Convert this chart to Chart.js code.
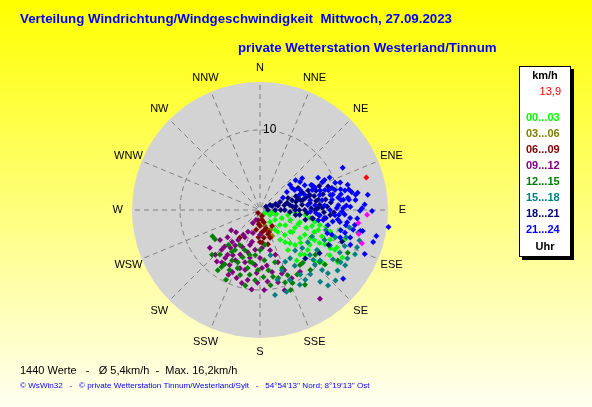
<!DOCTYPE html>
<html lang="de">
<head>
<meta charset="UTF-8">
<title>Windverteilung</title>
<script src="https://cdn.jsdelivr.net/npm/chart.js"></script>
<style>
    html, body { margin: 0; padding: 0; background: #ffff00; }
    #wrap { width: 592px; height: 407px; }
</style>
</head>
<body>
<div id="wrap"><canvas id="windChart" width="592" height="407"></canvas></div>
<script>
// compass directions (16 sectors, clockwise from N)
const directions = ['N', 'NNE', 'NE', 'ENE', 'E', 'ESE', 'SE', 'SSE', 'S', 'SSW', 'SW', 'WSW', 'W', 'WNW', 'NW', 'NNW'];
const ringTicks = [10];
const speedMax = 16;
const hourBands = ['00...03', '03...06', '06...09', '09...12', '12...15', '15...18', '18...21', '21...24'];
const bandColors = ['#00ff00', '#808000', '#800000', '#800080', '#008000', '#008080', '#000080', '#0000ff'];

// [direction in degrees, speed in km/h]
const winds0003 = [[124,0.75],[116,1.4],[104,2.1],[110,2.9],[108,4],[110,5.1],[111,6.2],[112,7.3],[113,8.4],[113,9.5],[116,10.7],
    [121,3.7],[124,4.9],[125,6.1],[125,7.6],[125,8.8],[130,10.3],[144,7.8],[145,6.1],[146,4.5],[143,3.1],[96,5.7],[95,4.4],
    [102,7],[104,10.3],[104,8.5],[130,7.8],[138,7.5],[123,10.4],[120,11.9],[138,5.6],[97,5],[99,6.3],[104,7.7],[107,9.2],
    [117,4.9],[119,6.4],[119,7.8],[118,9.2],[118,10.6],[127,3.1],[140,1.95],[135,4.4],[135,6.2],[135,7.9],[141,3.55],[107,6.8],[109,11.25],
    [99,1.5],[100,3.55],[107,5.2],[109,7.7],[110,10],[126,4.65],[129,6.5],[119,7.2],[119,8.5],[118.5,10],[124,11.7],[142,5.1],
    [123,2.25],[133,9.5]];
const winds0306 = [[165,1.55],[160,2.7],[178,3.1],[153,2.8],[163,2.1],[155,3.6]];
const winds0609 = [[212,0.45],[162,0.8],[191,1.3],[162,1.6],[180,2],[162,2.4],[175,2.8],[162,3.2],[172,3.5],[160,3.7],
    [191,2.5],[143,2.5],[216,4.3],[180,4],[167,4.4],[170,1.2],[185,1.8],[168,2.6],[183,3.4],[158,3],[176,4.1]];
const winds0912 = [[202,1.35],[209,1.85],[230,5.3],[235,4.4],[224,6.4],[216,4.65],[209,3.9],[206,5.1],[194,4.1],[196,5.5],
    [177,4.75],[180,6],[173,7],[169,7.9],[183,7.9],[194,9.4],[174,9],[166,9.3],[206,7],[216,6.9],[220,8.4],[216,8.1],
    [209,3.1],[197,3],[146,13.4],[218,6],[192,6.1],[199,7.7],[158,8.1],[155,9.4],[147,9.2],[161,8.4],[215,5.4],
    [204,6.1],[185,6.9],[221,5.3],[196,6.8],[178,7.25],[216,7.4],[227,4.1],[196,4.55],[161,5.9],[182,9.1],[204,8.5],[233,7.85],
    [225,7.9],[233,6.25],[209,7.85],[199,9],[190,8.9],[186,10],[177,10],[163,10.5],[161,6.9],[166,5.2],[187,5],
    [214,3.75],[224,6.9],[211,6.6],[180,3.1],[194,7.7],[206,9]];
const winds1215 = [[237,6.7],[222,7.5],[214,8.6],[209,7.2],[201,7.8],[192,7.4],[200,6.3],[188,6.7],[177,8.4],[169,8.5],
    [159,7.75],[161,9.6],[156,10],[141,8.5],[123,11.6],[116,12.2],[150,9.3],[213,8.1],[212,5.9],[201,5.35],[186,5.7],
    [175,6.3],[164,6.8],[189,8.2],[207,8.4],[197,8.5],[131,9.9],[222,5.9],[203,7.1],[191,6.6],[182,7.5],[172,7.6],
    [165,8.8],[157,8.85],[140,9.8],[241,6.8],
    [227,8.2],[215,9.2],[206,9.7],[191,9.6],[184,8.8],[172,9.5],[159,10.7],[149,10.9],[144,8.5],[129,8.9],
    [130,10.6],[180,5],[210,5.05],[193,5.75],[214,6.3],[172,4.4]];
const winds1518 = [[101,11.4],[107.5,11.3],[110,10],[111,13],[118,11.3],[124,11],[133,11.6],[138,12.7],[162,10.75],
    [125,8.7],[132,7.1],[132,8.4],[130,9.8],[124,7.2],[103,12.6],[123,12],[166,9],[148,8.2],[148,7.1],[135,9.7],
    [115,8.9],[117,7.3],[113,11.5],[148,9.5],[128,12.3],[160,8],[167,5.8],[119,12.5],[147,10.4],[107,8.6],
    [133,12.9],[140,11.7],[142,10.2],[152,10.6],[117,9.8],[115,13.1],[107,13],[139,6.7],[154,7.2],[133,9.1],
    [134,10.8],[170,10.8],[157,9.5],[123,12.7]];
const winds1821 = [[62,0.85],[72,1.6],[77,2.3],[79,3.1],[81,3.8],[84,4.5],[73,4.2],[76,5.2],[90,5.6],[73,6.5],[90,6.9],
    [80,7.4],[88,7.8],[68,6.5],[68,8],[66,7.3],[71,9],[117,9.6],[126,9.2],[137,8.3],[111,11],[97,5],[99,6.6],[90,3.1],
    [90,1.9],[69,4.8],[94,8.8],[90,4.4],[83,5.3],[82,6.3],[88,7.25],[81,8.3],[75,5.9],[75.5,7],[92,8],[74,4.95],
    [68,2.7],[67,3.8],[90,1],
    [75,3.5],[84,4.1],[90,4.9],[77,5.5],[94,5.9],[88,6.4],[81,7.1],[85,7.5],[76,8.1],[87,8.4],[84,8.9],[92,9.25],
    [99,6.7],[102,5.8],[98,4.5],[94,3.75],[95,7.4],[97,8.3],[67,5.7],[74,6.4],[71,7.4],[77,4.6],[69,2.1],[64,1.4],
    [90,2.6],[60,5.5]];
const winds2124 = [[63,11.6],[64.5,7.2],[73,9.4],[75.5,10.4],[77,11.4],[79,10.3],[83,10.2],[83.5,11.2],[88.5,9.6],
    [88.6,10.4],[90.5,12.5],[90.5,14],[97,9.8],[97.5,16.2],[102.6,14.9],[105.8,14.7],[112.8,14.2],[129.6,13.5],[95,12.2],
    [101.5,13.1],[82,11.1],[101.8,12.8],[63,5.6],[71,5.9],[79,6.4],[68,7.4],[76,7.7],[86,8.1],[78,9],[94,9.4],[95,7.5],
    [92,6.3],[98.5,10.1],[102.6,8.7],[93,10.6],[50,4.9],[60,5],[55,6.1],[66,8.5],[82,9.1],[86.5,9.8],[73,8.5],[88,11.3],
    [85,6.9],[100,10.9],[99,12],[105,11],[50,5.8],[61,6.4],[61,8.3],[65,8.9],[70,10],[78,9.3],[91,10.25],[90,8.75],
    [100,7.4],[95,11.3],[87,10.8],[84,12],[79,11.7],[87,13.1],[80,12.4],[69,5.3],[84,6],[69,7],[81,7.85],[74,8.9],
    [81,9.9],[77,10.9],[53,6.6],[56,4.05],[62,3.25],[93,7],[97,8.1],[99,9.2],[104,10.4],[107,11.8],[109,9.5],
    [65,9.6],[71,10.6],[74,11.4],[81,12.1],[89,12.75],[82,13.6],[93.5,9.9],[98,11],[102,11.9],[109,10.6],[109,8.9],
    [64,7.1],[55.5,4.85],[72,7.9],[75,9.7],[83,10.5],[99,8],[111,12.1]];
const windsRecent = [[92.6,13.4],[97.5,12.4],[103.6,12.7],[108,13.4]];
const windNow = [[73,13.9]];

const totalValues = 1440;
const meanSpeed = '5,4';
const maxSpeed = '16,2';

function toXY(p) {
    const a = p[0] * Math.PI / 180;
    return { x: p[1] * Math.sin(a), y: p[1] * Math.cos(a) };
}

const bandSeries = [winds0003, winds0306, winds0609, winds0912, winds1215, winds1518, winds1821, winds2124];

const datasets = bandSeries.map((s, i) => ({
    label: hourBands[i],
    data: s.map(toXY),
    backgroundColor: bandColors[i],
    borderWidth: 0,
    pointStyle: 'rectRot',
    pointRadius: 3,
    order: 20 - i,
    clip: false
}));
datasets.push({ label: 'recent', data: windsRecent.map(toXY), backgroundColor: '#ff00ff', borderWidth: 0,
    pointStyle: 'rectRot', pointRadius: 3, order: 5, clip: false });
datasets.push({ label: 'now', data: windNow.map(toXY), backgroundColor: '#ff0000', borderWidth: 0,
    pointStyle: 'rectRot', pointRadius: 3, order: 1, clip: false });

const windRose = {
    id: 'windRose',
    beforeDraw(chart) {
        const ctx = chart.ctx;
        const g = ctx.createLinearGradient(0, 0, 0, chart.height);
        g.addColorStop(0, '#ffff00');
        g.addColorStop(1, '#fffff2');
        ctx.save();
        ctx.fillStyle = g;
        ctx.fillRect(0, 0, chart.width, chart.height);
        ctx.restore();
    },
    beforeDatasetsDraw(chart) {
        const ctx = chart.ctx;
        const xs = chart.scales.x, ys = chart.scales.y;
        const cx = xs.getPixelForValue(0), cy = ys.getPixelForValue(0);
        const R = xs.getPixelForValue(speedMax) - cx;
        ctx.save();
        ctx.fillStyle = '#d3d3d3';
        ctx.beginPath();
        ctx.arc(cx, cy, R, 0, Math.PI * 2);
        ctx.fill();
        ctx.strokeStyle = '#7f7f7f';
        ctx.lineWidth = 1;
        ctx.setLineDash([5, 4]);
        directions.forEach((d, i) => {
            const a = i * 22.5 * Math.PI / 180;
            ctx.beginPath();
            ctx.moveTo(cx + 3 * Math.sin(a), cy - 3 * Math.cos(a));
            ctx.lineTo(cx + R * Math.sin(a), cy - R * Math.cos(a));
            ctx.stroke();
        });
        ringTicks.forEach(t => {
            const r = xs.getPixelForValue(t) - cx;
            ctx.beginPath();
            ctx.arc(cx, cy, r, 0, Math.PI * 2);
            ctx.stroke();
            ctx.setLineDash([]);
            ctx.fillStyle = '#000';
            ctx.font = '12px "Liberation Sans", Arial, sans-serif';
            ctx.textBaseline = 'middle';
            ctx.textAlign = 'left';
            ctx.fillText(String(t), cx + 3, cy - r);
        });
        ctx.restore();
    },
    afterDraw(chart) {
        const ctx = chart.ctx;
        const xs = chart.scales.x, ys = chart.scales.y;
        const cx = xs.getPixelForValue(0), cy = ys.getPixelForValue(0);
        const rl = xs.getPixelForValue(17.8) - cx;
        ctx.save();
        ctx.textBaseline = 'middle';

        // compass labels
        ctx.fillStyle = '#000';
        ctx.font = '11px "Liberation Sans", Arial, sans-serif';
        ctx.textAlign = 'center';
        directions.forEach((d, i) => {
            const a = i * 22.5 * Math.PI / 180;
            ctx.fillText(d, cx + rl * Math.sin(a), cy - rl * Math.cos(a));
        });

        // title
        ctx.fillStyle = '#0000ff';
        ctx.font = 'bold 13.3px "Liberation Sans", Arial, sans-serif';
        ctx.textAlign = 'left';
        ctx.fillText('Verteilung Windrichtung/Windgeschwindigkeit  Mittwoch, 27.09.2023', 20, 19);
        ctx.fillText('private Wetterstation Westerland/Tinnum', 238, 48);

        // legend box
        ctx.fillStyle = '#000';
        ctx.fillRect(522, 69, 52, 191);
        ctx.fillStyle = '#fff';
        ctx.fillRect(519, 66, 52, 191);
        ctx.strokeStyle = '#000';
        ctx.lineWidth = 1;
        ctx.strokeRect(519.5, 66.5, 51, 190);
        ctx.font = 'bold 11px "Liberation Sans", Arial, sans-serif';
        ctx.textAlign = 'center';
        ctx.fillStyle = '#000';
        ctx.fillText('km/h', 545, 76);
        ctx.font = '11px "Liberation Sans", Arial, sans-serif';
        ctx.textAlign = 'right';
        ctx.fillStyle = '#ff0000';
        ctx.fillText(windNow[0][1].toFixed(1).replace('.', ','), 561, 92);
        ctx.font = 'bold 11px "Liberation Sans", Arial, sans-serif';
        ctx.textAlign = 'left';
        hourBands.forEach((b, i) => {
            ctx.fillStyle = bandColors[i];
            ctx.fillText(b, 526, 118 + i * 16);
        });
        ctx.fillStyle = '#000';
        ctx.textAlign = 'center';
        ctx.fillText('Uhr', 545, 247);

        // footer
        ctx.textAlign = 'left';
        ctx.fillStyle = '#000';
        ctx.font = '11px "Liberation Sans", Arial, sans-serif';
        ctx.fillText(totalValues + ' Werte   -   Ø ' + meanSpeed + 'km/h  -  Max. ' + maxSpeed + 'km/h', 20, 371);
        ctx.fillStyle = '#0000ff';
        ctx.font = '8.1px "Liberation Sans", Arial, sans-serif';
        ctx.fillText('© WsWin32   -   © private Wetterstation Tinnum/Westerland/Sylt   -   54°54\'13\'\' Nord; 8°19\'13\'\' Ost', 20, 386);
        ctx.restore();
    }
};

new Chart(document.getElementById('windChart'), {
    type: 'scatter',
    data: { datasets: datasets },
    options: {
        responsive: false,
        animation: false,
        events: [],
        layout: { padding: { left: 132, right: 204, top: 82, bottom: 69 } },
        scales: {
            x: { type: 'linear', min: -speedMax, max: speedMax, display: false },
            y: { type: 'linear', min: -speedMax, max: speedMax, display: false }
        },
        plugins: { legend: { display: false }, tooltip: { enabled: false }, title: { display: false } }
    },
    plugins: [windRose]
});
</script>
</body>
</html>
